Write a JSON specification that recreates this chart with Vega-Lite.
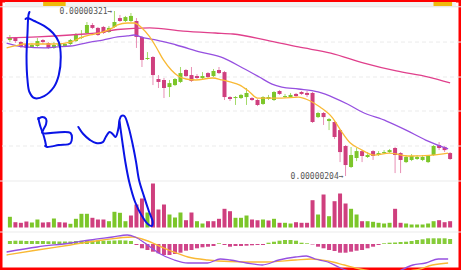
{
"$schema":"https://vega.github.io/schema/vega-lite/v6.json",
"width":461,"height":270,"padding":0,"autosize":"none","background":"white",
"config":{"view":{"stroke":"#ff0000","strokeWidth":5}},
"datasets":{
"candles":[
{"t":0,"o":300.4,"h":304.0,"l":299.0,"c":301.9,"v":10.7,"vd":"u","m":3},
{"t":1,"o":301.9,"h":302.6,"l":298.3,"c":299.7,"v":5.3,"vd":"d","m":3.3},
{"t":2,"o":299.0,"h":299.7,"l":294.8,"c":295.5,"v":4.7,"vd":"d","m":3.3},
{"t":3,"o":297.6,"h":298.3,"l":294.1,"c":294.8,"v":6,"vd":"d","m":3},
{"t":4,"o":295.5,"h":298.3,"l":294.8,"c":296.9,"v":5,"vd":"u","m":3},
{"t":5,"o":296.2,"h":301.9,"l":295.5,"c":299.7,"v":8,"vd":"u","m":3},
{"t":6,"o":300.4,"h":301.1,"l":297.6,"c":299.0,"v":5,"vd":"d","m":3},
{"t":7,"o":298.3,"h":299.0,"l":294.1,"c":294.8,"v":5.3,"vd":"d","m":2.7},
{"t":8,"o":294.8,"h":299.0,"l":294.1,"c":296.9,"v":9,"vd":"u","m":2.7},
{"t":9,"o":296.2,"h":299.0,"l":295.5,"c":297.6,"v":5.3,"vd":"d","m":2.5},
{"t":10,"o":296.2,"h":298.3,"l":295.5,"c":297.6,"v":5,"vd":"d","m":2.5},
{"t":11,"o":297.6,"h":301.1,"l":296.9,"c":300.4,"v":3.7,"vd":"u","m":2.5},
{"t":12,"o":299.7,"h":305.4,"l":299.0,"c":304.7,"v":8.7,"vd":"u","m":3},
{"t":13,"o":301.9,"h":307.5,"l":301.1,"c":302.6,"v":13.7,"vd":"u","m":3.3},
{"t":14,"o":305.4,"h":313.2,"l":304.7,"c":311.1,"v":13.7,"vd":"u","m":3.5},
{"t":15,"o":311.1,"h":312.5,"l":308.2,"c":309.0,"v":9.7,"vd":"d","m":3.5},
{"t":16,"o":309.0,"h":309.7,"l":303.3,"c":304.0,"v":8,"vd":"d","m":3.5},
{"t":17,"o":309.7,"h":310.4,"l":304.7,"c":305.4,"v":8,"vd":"d","m":3.3},
{"t":18,"o":306.1,"h":310.4,"l":305.4,"c":309.0,"v":6.3,"vd":"u","m":3.3},
{"t":19,"o":309.7,"h":321.0,"l":309.0,"c":313.2,"v":15.7,"vd":"u","m":3.5},
{"t":20,"o":316.0,"h":318.2,"l":313.2,"c":313.9,"v":14.7,"vd":"u","m":3.7},
{"t":21,"o":313.9,"h":317.5,"l":313.2,"c":316.7,"v":6.3,"vd":"u","m":3.5},
{"t":22,"o":313.9,"h":319.6,"l":313.2,"c":317.5,"v":12,"vd":"d","m":3},
{"t":23,"o":313.9,"h":316.0,"l":294.8,"c":302.6,"v":23,"vd":"d","m":-1},
{"t":24,"o":302.6,"h":303.3,"l":281.3,"c":286.3,"v":29,"vd":"d","m":-4.3},
{"t":25,"o":287.0,"h":291.9,"l":286.3,"c":287.7,"v":15,"vd":"u","m":-6},
{"t":26,"o":288.4,"h":289.1,"l":268.5,"c":275.6,"v":44,"vd":"d","m":-7.7},
{"t":27,"o":272.8,"h":275.6,"l":266.4,"c":270.7,"v":18,"vd":"d","m":-9.3},
{"t":28,"o":272.1,"h":273.5,"l":259.3,"c":266.4,"v":23,"vd":"d","m":-11},
{"t":29,"o":267.1,"h":272.1,"l":260.0,"c":269.9,"v":13,"vd":"u","m":-11},
{"t":30,"o":268.5,"h":273.5,"l":267.8,"c":272.8,"v":10,"vd":"u","m":-10},
{"t":31,"o":270.7,"h":281.3,"l":269.9,"c":277.0,"v":15,"vd":"u","m":-8.7},
{"t":32,"o":279.2,"h":279.9,"l":274.2,"c":274.9,"v":7.3,"vd":"d","m":-6.7},
{"t":33,"o":275.6,"h":281.3,"l":270.7,"c":271.4,"v":15,"vd":"d","m":-6},
{"t":34,"o":274.9,"h":276.3,"l":272.8,"c":273.5,"v":6.3,"vd":"u","m":-4.3},
{"t":35,"o":273.5,"h":277.7,"l":272.8,"c":274.9,"v":4,"vd":"u","m":-3.3},
{"t":36,"o":277.0,"h":277.7,"l":273.5,"c":274.2,"v":6.3,"vd":"d","m":-2.7},
{"t":37,"o":274.9,"h":279.9,"l":274.2,"c":278.5,"v":6.3,"vd":"d","m":-2},
{"t":38,"o":279.2,"h":281.3,"l":276.3,"c":277.0,"v":8.7,"vd":"d","m":0.7},
{"t":39,"o":277.7,"h":278.5,"l":257.9,"c":260.0,"v":18.7,"vd":"d","m":-1},
{"t":40,"o":260.0,"h":260.7,"l":257.2,"c":258.6,"v":16.3,"vd":"d","m":-2.7},
{"t":41,"o":259.3,"h":260.7,"l":254.4,"c":260.0,"v":9.7,"vd":"u","m":-2},
{"t":42,"o":259.3,"h":262.2,"l":258.6,"c":261.5,"v":9.7,"vd":"u","m":-2},
{"t":43,"o":260.0,"h":266.4,"l":254.4,"c":262.9,"v":12,"vd":"u","m":-1.7},
{"t":44,"o":259.3,"h":260.0,"l":257.2,"c":257.9,"v":8,"vd":"d","m":-1.3},
{"t":45,"o":257.9,"h":258.6,"l":253.6,"c":254.4,"v":7.3,"vd":"d","m":-1},
{"t":46,"o":255.1,"h":260.7,"l":254.4,"c":260.0,"v":8,"vd":"u","m":-1},
{"t":47,"o":258.6,"h":261.5,"l":257.9,"c":260.0,"v":7,"vd":"d","m":1.3},
{"t":48,"o":257.9,"h":264.3,"l":257.2,"c":263.6,"v":8.7,"vd":"u","m":2.3},
{"t":49,"o":264.3,"h":265.0,"l":261.5,"c":262.2,"v":4.7,"vd":"d","m":3.3},
{"t":50,"o":260.0,"h":262.2,"l":259.3,"c":260.7,"v":4.7,"vd":"u","m":4},
{"t":51,"o":260.0,"h":262.9,"l":259.3,"c":261.5,"v":4,"vd":"u","m":4},
{"t":52,"o":262.2,"h":262.9,"l":260.0,"c":260.7,"v":5.3,"vd":"d","m":3.3},
{"t":53,"o":263.6,"h":264.3,"l":261.5,"c":262.2,"v":4.7,"vd":"d","m":1.3},
{"t":54,"o":262.9,"h":264.3,"l":260.0,"c":261.5,"v":4.7,"vd":"d","m":0.7},
{"t":55,"o":262.9,"h":263.6,"l":241.6,"c":242.3,"v":27.3,"vd":"d","m":-0.5},
{"t":56,"o":245.8,"h":249.4,"l":245.1,"c":248.7,"v":13,"vd":"u","m":-2.7},
{"t":57,"o":248.7,"h":249.4,"l":240.2,"c":245.8,"v":33,"vd":"d","m":-4.3},
{"t":58,"o":243.0,"h":245.1,"l":236.6,"c":244.4,"v":11.3,"vd":"u","m":-6},
{"t":59,"o":242.3,"h":243.0,"l":230.2,"c":231.7,"v":26.3,"vd":"d","m":-7},
{"t":60,"o":236.6,"h":237.3,"l":213.9,"c":221.0,"v":34,"vd":"d","m":-8.7},
{"t":61,"o":225.3,"h":226.0,"l":204.0,"c":211.8,"v":24,"vd":"d","m":-8.7},
{"t":62,"o":210.4,"h":224.6,"l":209.7,"c":218.9,"v":18.7,"vd":"u","m":-7.7},
{"t":63,"o":216.8,"h":223.9,"l":214.6,"c":221.7,"v":13,"vd":"u","m":-6.7},
{"t":64,"o":221.7,"h":222.4,"l":213.9,"c":218.2,"v":6.3,"vd":"d","m":-6},
{"t":65,"o":217.5,"h":221.0,"l":216.8,"c":218.9,"v":6.3,"vd":"u","m":-4.3},
{"t":66,"o":221.7,"h":222.4,"l":215.4,"c":218.2,"v":5.7,"vd":"u","m":-2.7},
{"t":67,"o":218.9,"h":221.7,"l":218.2,"c":220.3,"v":4.7,"vd":"u","m":-1},
{"t":68,"o":220.3,"h":222.4,"l":219.6,"c":221.0,"v":4,"vd":"u","m":0.7},
{"t":69,"o":221.0,"h":223.2,"l":220.3,"c":222.4,"v":4.7,"vd":"u","m":1.3},
{"t":70,"o":223.9,"h":224.6,"l":206.1,"c":218.9,"v":18.7,"vd":"d","m":1.5},
{"t":71,"o":220.3,"h":221.0,"l":206.1,"c":215.4,"v":4.7,"vd":"d","m":2},
{"t":72,"o":213.9,"h":218.9,"l":213.2,"c":217.5,"v":4,"vd":"u","m":2.3},
{"t":73,"o":215.4,"h":219.6,"l":214.6,"c":218.2,"v":3,"vd":"u","m":3},
{"t":74,"o":216.1,"h":218.9,"l":215.4,"c":217.5,"v":3,"vd":"u","m":4},
{"t":75,"o":215.4,"h":218.9,"l":214.6,"c":217.5,"v":3,"vd":"u","m":4.7},
{"t":76,"o":213.9,"h":218.9,"l":213.2,"c":218.2,"v":4,"vd":"u","m":5.7},
{"t":77,"o":218.9,"h":226.0,"l":218.2,"c":225.3,"v":6.3,"vd":"u","m":5.7},
{"t":78,"o":226.0,"h":228.1,"l":222.4,"c":223.9,"v":7.3,"vd":"d","m":5.7},
{"t":79,"o":224.6,"h":225.3,"l":221.0,"c":222.4,"v":5.3,"vd":"d","m":5.7},
{"t":80,"o":220.3,"h":221.0,"l":215.4,"c":216.1,"v":6.3,"vd":"d","m":5}
],
"ma7":[{"t":-0.6,"p":294.8},{"t":0.89,"p":296.2},{"t":2.67,"p":297.6},{"t":4.98,"p":297.6},{"t":8,"p":297.6},{"t":11.02,"p":299.0},{"t":12.8,"p":301.9},{"t":14.58,"p":304.0},{"t":16.89,"p":306.1},{"t":18.67,"p":309.0},{"t":19.56,"p":311.1},{"t":21.33,"p":312.5},{"t":22.58,"p":312.5},{"t":24,"p":309.0},{"t":25.42,"p":302.6},{"t":26.67,"p":294.8},{"t":27.91,"p":286.3},{"t":29.33,"p":279.2},{"t":30.58,"p":274.9},{"t":32,"p":272.8},{"t":33.78,"p":272.1},{"t":36.8,"p":273.5},{"t":38.58,"p":272.1},{"t":40,"p":270.7},{"t":41.78,"p":268.5},{"t":43.56,"p":263.6},{"t":44.98,"p":259.3},{"t":46.58,"p":259.3},{"t":49.42,"p":259.3},{"t":52.44,"p":260.0},{"t":54.22,"p":257.9},{"t":56.36,"p":252.9},{"t":58.67,"p":245.1},{"t":60.09,"p":236.6},{"t":61.87,"p":227.4},{"t":63.64,"p":223.2},{"t":66.13,"p":218.9},{"t":68.98,"p":220.3},{"t":72.53,"p":218.2},{"t":76.8,"p":218.9},{"t":79.64,"p":220.3}],
"ma25":[{"t":-0.6,"p":298.3},{"t":2.67,"p":295.5},{"t":6.22,"p":294.8},{"t":8.53,"p":295.5},{"t":11.02,"p":296.2},{"t":14.58,"p":299.0},{"t":16.89,"p":300.4},{"t":19.56,"p":302.6},{"t":21.33,"p":303.3},{"t":22.58,"p":304.0},{"t":24.36,"p":301.9},{"t":26.67,"p":300.4},{"t":30.22,"p":296.9},{"t":34.67,"p":291.9},{"t":38.76,"p":287.7},{"t":42.31,"p":280.6},{"t":45.33,"p":274.2},{"t":47.64,"p":269.2},{"t":49.42,"p":267.1},{"t":52.44,"p":265.7},{"t":56,"p":263.6},{"t":59.02,"p":259.3},{"t":61.33,"p":255.1},{"t":64,"p":249.4},{"t":68.44,"p":243.0},{"t":72,"p":236.6},{"t":75.56,"p":229.5},{"t":79.64,"p":223.2}],
"ma99":[{"t":-0.6,"p":301.9},{"t":4.98,"p":302.6},{"t":11.02,"p":304.0},{"t":16.89,"p":306.1},{"t":19.56,"p":307.9},{"t":25.42,"p":309.0},{"t":31.47,"p":306.8},{"t":37.33,"p":305.4},{"t":40.53,"p":304.7},{"t":46.58,"p":300.4},{"t":52.44,"p":295.5},{"t":58.31,"p":291.2},{"t":64.36,"p":284.1},{"t":70.22,"p":278.5},{"t":76.09,"p":274.2},{"t":80,"p":270.0}],
"dif":[{"t":-0.6,"m":-8},{"t":4.98,"m":-3},{"t":11.02,"m":1},{"t":14.58,"m":4},{"t":18.67,"m":7},{"t":21.33,"m":9},{"t":22.76,"m":7},{"t":24.53,"m":1},{"t":27.02,"m":-9},{"t":29.87,"m":-16},{"t":32.36,"m":-19},{"t":35.91,"m":-19},{"t":38.22,"m":-15},{"t":40,"m":-16},{"t":43.02,"m":-19},{"t":45.87,"m":-21},{"t":48.89,"m":-16},{"t":51.91,"m":-13},{"t":53.87,"m":-12},{"t":55.47,"m":-15},{"t":57.78,"m":-18},{"t":60.09,"m":-24},{"t":63.11,"m":-29},{"t":66.67,"m":-31},{"t":70.22,"m":-28},{"t":73.24,"m":-21},{"t":75.56,"m":-19},{"t":77.87,"m":-15},{"t":79.64,"m":-15}],
"dea":[{"t":-0.6,"m":-11},{"t":4.98,"m":-6},{"t":11.02,"m":-1},{"t":16.89,"m":4},{"t":22.22,"m":7},{"t":24,"m":5},{"t":28.8,"m":-6},{"t":32.36,"m":-13},{"t":35.91,"m":-16},{"t":40,"m":-17.5},{"t":45.87,"m":-18},{"t":51.91,"m":-16},{"t":54.76,"m":-15},{"t":57.78,"m":-17},{"t":60.8,"m":-21},{"t":63.64,"m":-25},{"t":68.44,"m":-28},{"t":73.78,"m":-26},{"t":76.8,"m":-21},{"t":79.64,"m":-19}],
"ink":[
{"s":"D","k":1,"t":3.555,"p":320.3},{"s":"D","k":2,"t":3.378,"p":318.2},{"s":"D","k":3,"t":3.2,"p":305.4},{"s":"D","k":4,"t":3.022,"p":288.4},{"s":"D","k":5,"t":3.2,"p":272.1},{"s":"D","k":6,"t":3.555,"p":263.6},{"s":"D","k":7,"t":4.444,"p":259.3},{"s":"D","k":8,"t":6.222,"p":260.7},{"s":"D","k":9,"t":8.0,"p":267.1},{"s":"D","k":10,"t":8.889,"p":275.6},{"s":"D","k":11,"t":9.245,"p":288.4},{"s":"D","k":12,"t":8.889,"p":299.0},{"s":"D","k":13,"t":7.822,"p":305.4},{"s":"D","k":14,"t":6.222,"p":310.4},{"s":"D","k":15,"t":4.444,"p":313.9},{"s":"D","k":16,"t":3.2,"p":316.0},{"s":"D","k":17,"t":2.845,"p":315.3},
{"s":"B1","k":1,"t":5.156,"p":245.1},{"s":"B1","k":2,"t":5.511,"p":239.5},{"s":"B1","k":3,"t":6.044,"p":233.8},{"s":"B1","k":4,"t":6.4,"p":228.8},{"s":"B1","k":5,"t":6.578,"p":225.3},
{"s":"B2","k":1,"t":5.156,"p":244.4},{"s":"B2","k":2,"t":5.867,"p":245.8},{"s":"B2","k":3,"t":6.578,"p":244.4},{"s":"B2","k":4,"t":6.578,"p":240.9},{"s":"B2","k":5,"t":6.044,"p":236.6},{"s":"B2","k":6,"t":5.867,"p":234.5},{"s":"B2","k":7,"t":11.022,"p":234.5},{"s":"B2","k":8,"t":11.022,"p":227.4},{"s":"B2","k":9,"t":8.889,"p":226.0},{"s":"B2","k":10,"t":6.756,"p":224.6},{"s":"B2","k":11,"t":6.4,"p":225.3},
{"s":"U","k":1,"t":12.444,"p":238.8},{"s":"U","k":2,"t":13.333,"p":233.8},{"s":"U","k":3,"t":14.578,"p":229.5},{"s":"U","k":4,"t":15.644,"p":227.4},{"s":"U","k":5,"t":16.889,"p":228.1},{"s":"U","k":6,"t":17.422,"p":231.7},{"s":"U","k":7,"t":18.133,"p":235.2},{"s":"U","k":8,"t":18.667,"p":233.8},{"s":"U","k":9,"t":19.2,"p":231.7},{"s":"U","k":10,"t":19.733,"p":238.0},{"s":"U","k":11,"t":19.911,"p":243.7},{"s":"U","k":12,"t":20.267,"p":246.6},{"s":"U","k":13,"t":20.8,"p":246.6},{"s":"U","k":14,"t":21.511,"p":239.5},{"s":"U","k":15,"t":22.222,"p":228.1},{"s":"U","k":16,"t":22.933,"p":213.9},{"s":"U","k":17,"t":23.467,"p":201.2},{"s":"U","k":18,"t":24.356,"p":189.8},{"s":"U","k":19,"t":25.244,"p":179.2},{"s":"U","k":20,"t":25.956,"p":171.4},{"s":"U","k":21,"t":25.778,"p":168.6},{"s":"U","k":22,"t":25.067,"p":170.0},{"s":"U","k":23,"t":24.0,"p":175.7},{"s":"U","k":24,"t":22.756,"p":185.6},{"s":"U","k":25,"t":21.689,"p":199.8},{"s":"U","k":26,"t":20.978,"p":214.0},{"s":"U","k":27,"t":20.444,"p":228.1},{"s":"U","k":28,"t":20.089,"p":238.0},{"s":"U","k":29,"t":19.911,"p":243.7}
]
},
"layer":[
{"data":{"values":[{"t0":-0.889,"t1":81.07,"p0":324.5,"p1":327.4}]},"mark":{"type":"rect","fill":"#f2f2f2"},
 "encoding":{"x":{"field":"t0","type":"quantitative","scale":{"domain":[-0.889,81.07],"nice":false,"zero":false},"axis":null},"x2":{"field":"t1"},
 "y":{"field":"p0","type":"quantitative","scale":{"domain":[137.4,328.8],"nice":false,"zero":false},"axis":null},"y2":{"field":"p1"}}},
{"data":{"values":[{"t0":6.04,"t1":10.13,"p0":324.5,"p1":327.4},{"t0":76.98,"t1":80.36,"p0":324.5,"p1":327.4}]},"mark":{"type":"rect","fill":"#f0b90b"},
 "encoding":{"x":{"field":"t0","type":"quantitative","scale":{"domain":[-0.889,81.07],"nice":false,"zero":false},"axis":null},"x2":{"field":"t1"},
 "y":{"field":"p0","type":"quantitative","scale":{"domain":[137.4,328.8],"nice":false,"zero":false},"axis":null},"y2":{"field":"p1"}}},
{"data":{"values":[{"p":324.0}]},"mark":{"type":"rule","stroke":"#e2e2e2","strokeWidth":1},
 "encoding":{"y":{"field":"p","type":"quantitative","scale":{"domain":[137.4,328.8],"nice":false,"zero":false},"axis":null}}},
{"data":{"values":[{"p":299.0},{"p":274.2},{"p":250.1},{"p":225.3}]},"mark":{"type":"rule","stroke":"#ebebeb","strokeWidth":1,"strokeDash":[4,3]},
 "encoding":{"y":{"field":"p","type":"quantitative","scale":{"domain":[137.4,328.8],"nice":false,"zero":false},"axis":null}}},
{"data":{"values":[{"v":46.5},{"v":-4.5}]},"mark":{"type":"rule","stroke":"#ebebeb","strokeWidth":1},
 "encoding":{"y":{"field":"v","type":"quantitative","scale":{"domain":[-42.5,227.5],"nice":false,"zero":false},"axis":null}}},
{"data":{"name":"candles"},"mark":{"type":"rule","strokeWidth":1},
 "encoding":{"x":{"field":"t","type":"quantitative","scale":{"domain":[-0.889,81.07],"nice":false,"zero":false},"axis":null},
 "y":{"field":"l","type":"quantitative","scale":{"domain":[137.4,328.8],"nice":false,"zero":false},"axis":null},"y2":{"field":"h"},
 "color":{"condition":{"test":"datum.c >= datum.o","value":"#a3da68"},"value":"#e88fb5"}}},
{"data":{"name":"candles"},"mark":{"type":"bar","size":4},
 "encoding":{"x":{"field":"t","type":"quantitative","scale":{"domain":[-0.889,81.07],"nice":false,"zero":false},"axis":null},
 "y":{"field":"o","type":"quantitative","scale":{"domain":[137.4,328.8],"nice":false,"zero":false},"axis":null},"y2":{"field":"c"},
 "color":{"condition":{"test":"datum.c >= datum.o","value":"#7cc62a"},"value":"#cf3f7e"}}},
{"data":{"name":"ma99"},"mark":{"type":"line","stroke":"#e0408c","strokeWidth":1.3,"interpolate":"monotone"},
 "encoding":{"x":{"field":"t","type":"quantitative","scale":{"domain":[-0.889,81.07],"nice":false,"zero":false},"axis":null},
 "y":{"field":"p","type":"quantitative","scale":{"domain":[137.4,328.8],"nice":false,"zero":false},"axis":null}}},
{"data":{"name":"ma25"},"mark":{"type":"line","stroke":"#9650e0","strokeWidth":1.3,"interpolate":"monotone"},
 "encoding":{"x":{"field":"t","type":"quantitative","scale":{"domain":[-0.889,81.07],"nice":false,"zero":false},"axis":null},
 "y":{"field":"p","type":"quantitative","scale":{"domain":[137.4,328.8],"nice":false,"zero":false},"axis":null}}},
{"data":{"name":"ma7"},"mark":{"type":"line","stroke":"#f9b934","strokeWidth":1.3,"interpolate":"monotone"},
 "encoding":{"x":{"field":"t","type":"quantitative","scale":{"domain":[-0.889,81.07],"nice":false,"zero":false},"axis":null},
 "y":{"field":"p","type":"quantitative","scale":{"domain":[137.4,328.8],"nice":false,"zero":false},"axis":null}}},
{"data":{"name":"candles"},"mark":{"type":"bar","size":4},
 "encoding":{"x":{"field":"t","type":"quantitative","scale":{"domain":[-0.889,81.07],"nice":false,"zero":false},"axis":null},
 "y":{"field":"v","type":"quantitative","scale":{"domain":[-42.5,227.5],"nice":false,"zero":false},"axis":null},"y2":{"datum":0},
 "color":{"condition":{"test":"datum.vd == 'u'","value":"#7cc62a"},"value":"#cf3f7e"}}},
{"data":{"name":"candles"},"mark":{"type":"bar","size":4},
 "encoding":{"x":{"field":"t","type":"quantitative","scale":{"domain":[-0.889,81.07],"nice":false,"zero":false},"axis":null},
 "y":{"field":"m","type":"quantitative","scale":{"domain":[-26,244],"nice":false,"zero":false},"axis":null},"y2":{"datum":0},
 "color":{"condition":{"test":"datum.m >= 0","value":"#86cc3a"},"value":"#d0458a"}}},
{"data":{"name":"dea"},"mark":{"type":"line","stroke":"#f9b934","strokeWidth":1.3,"interpolate":"monotone"},
 "encoding":{"x":{"field":"t","type":"quantitative","scale":{"domain":[-0.889,81.07],"nice":false,"zero":false},"axis":null},
 "y":{"field":"m","type":"quantitative","scale":{"domain":[-26,244],"nice":false,"zero":false},"axis":null}}},
{"data":{"name":"dif"},"mark":{"type":"line","stroke":"#9650e0","strokeWidth":1.3,"interpolate":"monotone"},
 "encoding":{"x":{"field":"t","type":"quantitative","scale":{"domain":[-0.889,81.07],"nice":false,"zero":false},"axis":null},
 "y":{"field":"m","type":"quantitative","scale":{"domain":[-26,244],"nice":false,"zero":false},"axis":null}}},
{"data":{"values":[{"t":19,"p":321.0,"label":"0.00000321→"},{"t":61,"p":204.0,"label":"0.00000204→"}]},
 "mark":{"type":"text","align":"right","baseline":"middle","dx":-2,"dy":1,"font":"DejaVu Sans Mono","fontSize":8,"fill":"#555555"},
 "encoding":{"x":{"field":"t","type":"quantitative","scale":{"domain":[-0.889,81.07],"nice":false,"zero":false},"axis":null},
 "y":{"field":"p","type":"quantitative","scale":{"domain":[137.4,328.8],"nice":false,"zero":false},"axis":null},"text":{"field":"label"}}},
{"data":{"name":"ink"},"mark":{"type":"line","stroke":"#0a14e6","strokeWidth":2,"strokeCap":"round","strokeJoin":"round","interpolate":"catmull-rom"},
 "encoding":{"x":{"field":"t","type":"quantitative","scale":{"domain":[-0.889,81.07],"nice":false,"zero":false},"axis":null},
 "y":{"field":"p","type":"quantitative","scale":{"domain":[137.4,328.8],"nice":false,"zero":false},"axis":null},
 "detail":{"field":"s"},"order":{"field":"k","type":"quantitative"}}}
],
"resolve":{"scale":{"y":"independent"}}
}
